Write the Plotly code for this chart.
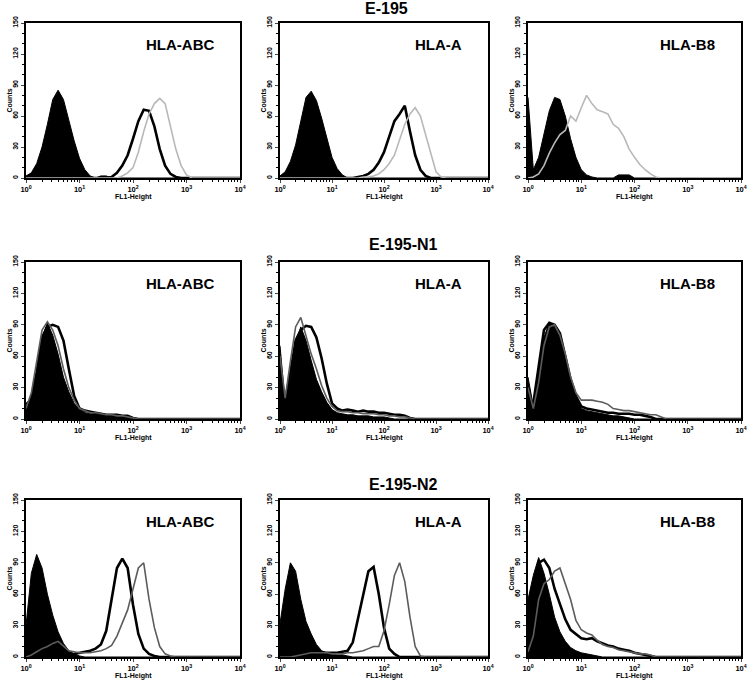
import plotly.graph_objects as go

W, H = 750, 683

# bins: FL1-Height exponents 0.0 .. 4.0 in steps of 0.1
fl1_exp = [i / 10 for i in range(41)]
fl1 = [10 ** e for e in fl1_exp]


def counts(*vals):
    v = list(vals)
    return v + [0] * (41 - len(v))


# ---- E-195 ----
e195_abc_iso = counts(2, 5, 14, 30, 52, 76, 85, 76, 56, 36, 19, 8, 2, 0, 2, 2)
e195_abc_blk = counts(0, 0, 0, 0, 0, 0, 0, 0, 0, 0, 0, 0, 0, 0, 0, 0, 1, 5, 12, 22,
                      38, 55, 66, 65, 50, 28, 12, 4, 1)
e195_abc_gry = counts(0, 0, 0, 0, 0, 0, 0, 0, 0, 0, 0, 0, 0, 0, 0, 0, 0, 0, 2, 5,
                      10, 25, 45, 62, 72, 77, 72, 50, 28, 12, 3)

e195_a_iso = counts(2, 6, 16, 32, 55, 78, 84, 75, 58, 38, 20, 9, 3)
e195_a_blk = counts(0, 0, 0, 0, 0, 0, 0, 0, 0, 0, 0, 0, 0, 0, 0, 1, 2, 4, 8, 15,
                    25, 40, 55, 62, 70, 45, 22, 8, 2)
e195_a_gry = counts(0, 0, 0, 0, 0, 0, 0, 0, 0, 0, 0, 0, 0, 0, 0, 0, 1, 1, 2, 4,
                    8, 14, 22, 38, 52, 62, 68, 60, 42, 22, 6, 1)

e195_b8_iso = counts(78, 8, 20, 42, 65, 78, 76, 60, 38, 20, 8, 3, 1, 0, 0, 0, 0, 3, 3, 3)
e195_b8_blk = None
e195_b8_gry = counts(0, 1, 4, 12, 24, 34, 42, 46, 60, 55, 68, 80, 72, 66, 64, 62, 52, 48, 40, 28,
                     20, 13, 8, 4, 1)

# ---- E-195-N1 ----
n1_abc_iso = counts(15, 20, 45, 78, 92, 80, 62, 40, 26, 15, 9, 6, 5, 5, 4, 3, 3, 3, 3, 2, 1)
n1_abc_gry = counts(10, 25, 55, 85, 93, 85, 70, 48, 30, 18, 10, 8, 6, 6, 5, 4, 4, 3, 3, 2, 1)
n1_abc_blk = counts(8, 20, 45, 78, 88, 90, 88, 75, 48, 22, 10, 8, 7, 6, 5, 4, 4, 4, 3, 3, 1)

n1_a_iso = counts(70, 15, 40, 72, 88, 75, 56, 38, 26, 16, 9, 6, 5, 4, 4, 3, 3, 3, 2, 2, 2, 1)
n1_a_gry = counts(60, 20, 55, 88, 97, 80, 62, 48, 32, 20, 12, 8, 7, 7, 6, 6, 5, 5, 5, 4,
                  4, 3, 3, 2, 2, 1)
n1_a_blk = counts(5, 18, 45, 75, 85, 89, 88, 78, 58, 34, 15, 10, 8, 9, 8, 7, 8, 7, 7, 6,
                  6, 5, 4, 4, 3, 1)

n1_b8_iso = counts(40, 12, 45, 78, 92, 88, 80, 58, 38, 20, 10, 8, 7, 6, 5, 4, 3, 3, 2, 1)
n1_b8_gry = counts(30, 10, 35, 70, 88, 90, 80, 62, 40, 25, 18, 18, 18, 17, 16, 14, 10, 9, 8, 8,
                   7, 6, 5, 4, 4, 2)
n1_b8_blk = counts(10, 15, 50, 85, 92, 90, 82, 60, 38, 22, 12, 10, 9, 8, 7, 6, 6, 5, 5, 5,
                   4, 4, 3, 2)

# ---- E-195-N2 ----
n2_abc_iso = counts(30, 80, 98, 85, 60, 40, 24, 13, 6, 3, 1)
n2_abc_gry = counts(0, 2, 5, 8, 10, 13, 15, 10, 6, 5, 4, 4, 4, 5, 6, 8, 11, 20, 33, 45,
                    65, 85, 90, 55, 28, 10, 3, 1)
n2_abc_blk = counts(0, 0, 0, 0, 0, 0, 0, 1, 2, 3, 4, 5, 6, 8, 12, 25, 55, 85, 94, 85,
                    50, 22, 8, 3, 1)

n2_a_iso = counts(32, 65, 90, 82, 55, 34, 22, 12, 6, 4, 3, 2, 2, 1)
n2_a_blk = counts(0, 0, 0, 0, 1, 2, 3, 4, 4, 4, 4, 4, 5, 6, 14, 36, 58, 82, 86, 60,
                  28, 8, 3)
n2_a_gry = counts(0, 0, 0, 1, 2, 3, 4, 4, 4, 4, 3, 3, 3, 4, 4, 5, 6, 8, 10, 10,
                  25, 50, 78, 90, 72, 38, 10, 1)

n2_b8_iso = counts(55, 78, 95, 80, 60, 38, 24, 15, 9, 6, 4, 3, 2, 1)
n2_b8_blk = counts(10, 50, 90, 93, 85, 65, 50, 36, 26, 22, 18, 17, 18, 15, 13, 11, 10, 8, 7, 6,
                   4, 3, 2, 1)
n2_b8_gry = counts(5, 20, 55, 70, 74, 82, 85, 70, 55, 35, 26, 23, 21, 16, 12, 10, 9, 7, 6, 5,
                   4, 3, 3, 2)

row_titles = ["E-195", "E-195-N1", "E-195-N2"]
col_labels = ["HLA-ABC", "HLA-A", "HLA-B8"]
y_ticks = [0, 30, 60, 90, 120, 150]
x_ticks = [1, 10, 100, 1000, 10000]
x_ticktext = ["10<sup>0</sup>", "10<sup>1</sup>", "10<sup>2</sup>", "10<sup>3</sup>", "10<sup>4</sup>"]

panels = [
    [(e195_abc_iso, e195_abc_blk, e195_abc_gry), (e195_a_iso, e195_a_blk, e195_a_gry),
     (e195_b8_iso, e195_b8_blk, e195_b8_gry)],
    [(n1_abc_iso, n1_abc_blk, n1_abc_gry), (n1_a_iso, n1_a_blk, n1_a_gry),
     (n1_b8_iso, n1_b8_blk, n1_b8_gry)],
    [(n2_abc_iso, n2_abc_blk, n2_abc_gry), (n2_a_iso, n2_a_blk, n2_a_gry),
     (n2_b8_iso, n2_b8_blk, n2_b8_gry)],
]
gray_colors = ["#b8b8b8", "#5c5c5c", "#5c5c5c"]

# pixel geometry of plot boxes (window pixels)
cols_px = [(26, 240), (280, 488), (528, 741)]
rows_px = [(23, 178), (262, 419), (500, 657)]
title_x_px = [386, 403, 403]
title_y_px = [8, 244, 484]

FONT = "Arial, Liberation Sans, sans-serif"


def px(x):
    return x / W


def py(y):
    return 1 - y / H


fig = go.Figure()
layout = dict(width=W, height=H, margin=dict(l=0, r=0, t=0, b=0, pad=0, autoexpand=False),
              paper_bgcolor="white", plot_bgcolor="white", showlegend=False,
              font=dict(family=FONT, color="black"))
annotations = []

k = 0
for r in range(3):
    for c in range(3):
        k += 1
        xa = "x" if k == 1 else f"x{k}"
        ya = "y" if k == 1 else f"y{k}"
        iso, blk, gry = panels[r][c]
        fig.add_trace(go.Scatter(x=fl1, y=iso, mode="lines", fill="tozeroy",
                                 fillcolor="black", line=dict(color="black", width=1),
                                 xaxis=xa, yaxis=ya))
        if blk is not None:
            fig.add_trace(go.Scatter(x=fl1, y=blk, mode="lines",
                                     line=dict(color="black", width=2.6),
                                     xaxis=xa, yaxis=ya))
        fig.add_trace(go.Scatter(x=fl1, y=gry, mode="lines",
                                 line=dict(color=gray_colors[r], width=1.6),
                                 xaxis=xa, yaxis=ya))
        x0, x1 = cols_px[c]
        y0, y1 = rows_px[r]
        axkey = "xaxis" if k == 1 else f"xaxis{k}"
        aykey = "yaxis" if k == 1 else f"yaxis{k}"
        layout[axkey] = dict(
            type="log", range=[0, 4], domain=[px(x0), px(x1)], anchor=ya, automargin=False,
            showline=True, linecolor="black", linewidth=1.6, mirror=True,
            showgrid=False, zeroline=False, ticks="outside", ticklen=3, tickwidth=1,
            tickvals=x_ticks, ticktext=x_ticktext,
            tickfont=dict(size=7.5, family=FONT, weight="bold"),
            minor=dict(ticks="outside", ticklen=2, dtick="D1", tickcolor="black"),
        )
        layout[aykey] = dict(
            range=[0, 150], domain=[py(y1), py(y0)], anchor=xa, automargin=False,
            showline=True, linecolor="black", linewidth=1.6, mirror=True,
            showgrid=False, zeroline=False, ticks="outside", ticklen=3, tickwidth=1,
            tickvals=y_ticks, tickangle=-90,
            tickfont=dict(size=7, family=FONT, weight="bold"),
            minor=dict(ticks="outside", ticklen=2, dtick=10, tickcolor="black"),
        )
        # panel label
        annotations.append(dict(text=f"<b>{col_labels[c]}</b>", xref="paper", yref="paper",
                                x=px(x1 - 24), y=py(y0 + 21), xanchor="right", yanchor="middle",
                                showarrow=False, font=dict(size=15, family=FONT, color="black")))
        # axis titles
        annotations.append(dict(text="<b>FL1-Height</b>", xref="paper", yref="paper",
                                x=px((x0 + x1) / 2), y=py(y1 + 19), xanchor="center", yanchor="middle",
                                showarrow=False, font=dict(size=7, family=FONT, color="black")))
        annotations.append(dict(text="<b>Counts</b>", xref="paper", yref="paper",
                                x=px(x0 - 17), y=py((y0 + y1) / 2), xanchor="center", yanchor="middle",
                                textangle=-90, showarrow=False,
                                font=dict(size=7, family=FONT, color="black")))
    annotations.append(dict(text=f"<b>{row_titles[r]}</b>", xref="paper", yref="paper",
                            x=px(title_x_px[r]), y=py(title_y_px[r]), xanchor="center", yanchor="middle",
                            showarrow=False, font=dict(size=16, family=FONT, color="black")))

layout["annotations"] = annotations
fig.update_layout(**layout)
fig.write_html("out.html", config={"displayModeBar": False},
               post_script="document.body.style.margin='0px';document.body.style.padding='0px';")
